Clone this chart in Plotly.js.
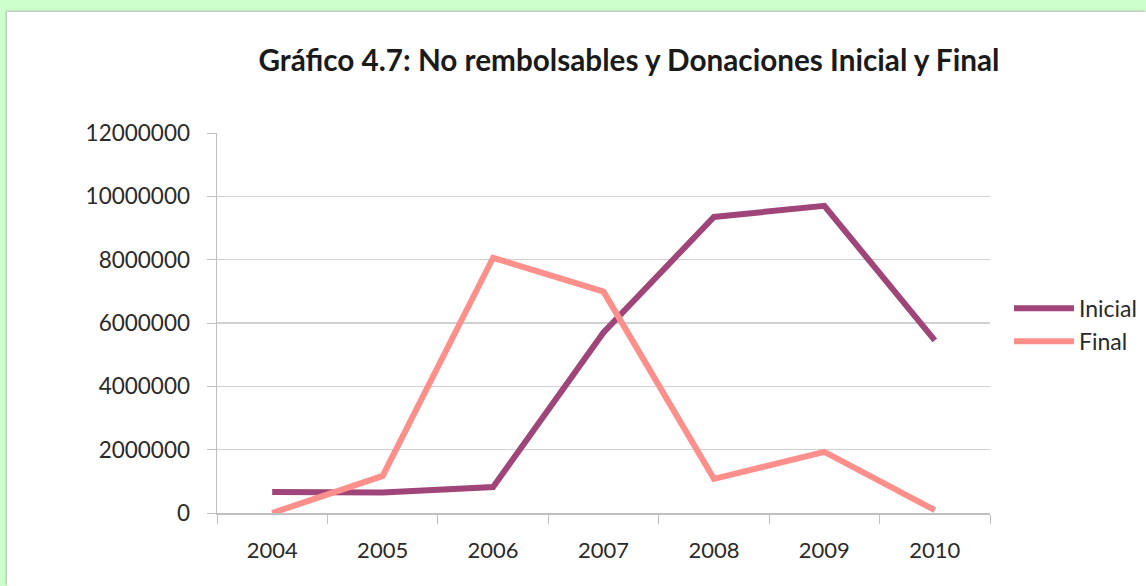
<!DOCTYPE html>
<html>
<head>
<meta charset="utf-8">
<script src="https://cdn.plot.ly/plotly-3.0.1.min.js"></script>
<style>
  html, body { margin: 0; padding: 0; background: #ccffcc; width: 1146px; height: 586px; overflow: hidden; }
  #plot { position: absolute; left: 7px; top: 12px; width: 1139px; height: 574px; background: #fff; box-shadow: -1px -1px 2px #b8b8b8; }
</style>
</head>
<body>
<div id="plot"></div>
<script>
const years = ["2004", "2005", "2006", "2007", "2008", "2009", "2010"];
const inicial = [660000, 650000, 820000, 5700000, 9350000, 9700000, 5450000];
const final = [0, 1170000, 8060000, 6990000, 1080000, 1930000, 90000];
const yTicks = [0, 2000000, 4000000, 6000000, 8000000, 10000000, 12000000];

const fontFam = "Lato, 'Open Sans', sans-serif";

const traces = [
  { x: years, y: inicial, name: "Inicial", type: "scatter", mode: "lines",
    line: { color: "#a0457a", width: 6, shape: "linear" } },
  { x: years, y: final, name: "Final", type: "scatter", mode: "lines",
    line: { color: "#ff8f8a", width: 6, shape: "linear" } }
];

const layout = {
  width: 1139, height: 574,
  margin: { l: 210, r: 156, t: 121, b: 73 },
  paper_bgcolor: "#ffffff", plot_bgcolor: "#ffffff",
  font: { family: fontFam, size: 22, color: "#333333" },
  title: { text: "<b>Gráfico 4.7: No rembolsables y Donaciones Inicial y Final</b>",
    font: { family: fontFam, size: 29.7, color: "#1a1a1a" },
    x: 0.546, xanchor: "center", xref: "container", y: 0.916, yanchor: "middle", yref: "container" },
  xaxis: { type: "category", range: [-0.5, 6.5], tickson: "boundaries", ticks: "outside", ticklen: 9,
    tickcolor: "#bfbfbf", showline: true, linecolor: "#bfbfbf", linewidth: 1.5, showgrid: false,
    tickfont: { size: 22, color: "#2a2a2a" }, ticklabelstandoff: 17, fixedrange: true },
  yaxis: { range: [0, 12000000], tickvals: yTicks, ticktext: yTicks.map(String), ticks: "outside", ticklen: 9,
    tickcolor: "#bfbfbf", showline: true, linecolor: "#bfbfbf", linewidth: 1.5, gridcolor: "#d0d0d0", gridwidth: 1.5,
    zeroline: false, tickfont: { size: 22.5, color: "#2a2a2a" }, ticklabelstandoff: 12, fixedrange: true },
  legend: { xref: "container", x: 0.8797, xanchor: "left", yref: "container", y: 0.455, yanchor: "middle",
    font: { size: 23, color: "#2a2a2a" }, itemwidth: 60, tracegroupgap: 0, bgcolor: "rgba(0,0,0,0)" },
  showlegend: true
};

Plotly.newPlot("plot", traces, layout, { displayModeBar: false, staticPlot: true });
</script>
</body>
</html>
